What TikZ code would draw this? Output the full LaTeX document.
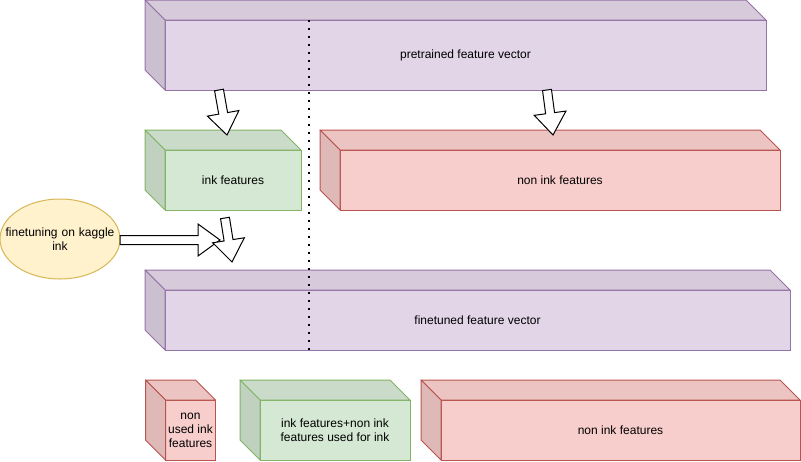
\documentclass[tikz,border=0pt]{standalone}
\usepackage{fontspec}
\setmainfont{Liberation Sans}
\usetikzlibrary{calc,shapes.geometric}
\usepackage{xcolor}
\definecolor{vecpurple}{HTML}{E1D5E7}
\definecolor{vecpurpleline}{HTML}{9673A6}
\definecolor{inkgreen}{HTML}{D5E8D4}
\definecolor{inkgreenline}{HTML}{82B366}
\definecolor{noinkred}{HTML}{F8CECC}
\definecolor{noinkredline}{HTML}{B85450}
\definecolor{tuneyellow}{HTML}{FFF2CC}
\definecolor{tuneyellowline}{HTML}{D6B656}
\tikzset{
  cube/.style={
    draw,
    line width=1pt,
    inner sep=0pt,
    outer sep=0pt,
    align=center,
    font=\fontsize{12pt}{14pt}\selectfont
  },
  vecbox/.style={cube, fill=vecpurple, draw=vecpurpleline},
  inkbox/.style={cube, fill=inkgreen, draw=inkgreenline},
  noinkbox/.style={cube, fill=noinkred, draw=noinkredline},
  tune/.style={
    ellipse,
    draw=tuneyellowline,
    fill=tuneyellow,
    line width=1pt,
    inner xsep=-14pt,
    inner ysep=0pt,
    outer sep=0pt,
    minimum width=120pt,
    minimum height=80pt,
    text width=112pt,
    align=center,
    font=\fontsize{12pt}{14pt}\selectfont
  },
  flex/.style={draw=black, fill=white, line width=1pt, line join=miter},
  divider/.style={line width=1.6pt, dash pattern=on 1.6pt off 6.4pt},
}
% top and left faces behind a front node (node, fill, line)
\newcommand{\cubefaces}[3]{%
  \filldraw[fill=#2!95!black, draw=#3, line width=1pt, line join=round]
    (#1.north west) -- ++(-20pt,20pt) -- ([shift={(-20pt,20pt)}]#1.north east) -- (#1.north east) -- cycle;
  \filldraw[fill=#2!90!black, draw=#3, line width=1pt, line join=round]
    (#1.north west) -- ++(-20pt,20pt) -- ([shift={(-20pt,20pt)}]#1.south west) -- (#1.south west) -- cycle;
}
% block arrow between two points (name, from, to)
\newcommand{\flexarrow}[3]{%
  \coordinate (#1h) at ($(#3)!22pt!(#2)$);
  \filldraw[flex] ($(#2)!4.5pt!90:(#3)$) -- ($(#1h)!4.5pt!90:(#3)$) -- ($(#1h)!16pt!90:(#3)$)
    -- (#3) -- ($(#1h)!16pt!-90:(#3)$) -- ($(#1h)!4.5pt!-90:(#3)$) -- ($(#2)!4.5pt!-90:(#3)$) -- cycle;
}

\begin{document}
\begin{tikzpicture}[x=1pt,y=-1pt]
\useasboundingbox (0,0) rectangle (801,461);

% Pretrained vector
\node[vecbox, minimum width=601pt, minimum height=70pt] (pre) at (465.5,55) {pretrained feature vector};
\cubefaces{pre}{vecpurple}{vecpurpleline}

% Split of pretrained features
\node[inkbox, minimum width=136pt, minimum height=60pt] (ink) at (233,180) {ink features};
\cubefaces{ink}{inkgreen}{inkgreenline}
\node[noinkbox, minimum width=440pt, minimum height=60pt] (nonink) at (560,180) {non ink features};
\cubefaces{nonink}{noinkred}{noinkredline}

% Finetuned vector
\node[vecbox, minimum width=625pt, minimum height=60pt] (fine) at (477.5,320) {finetuned feature vector};
\cubefaces{fine}{vecpurple}{vecpurpleline}

% Split of finetuned features
\node[noinkbox, minimum width=50pt, minimum height=60pt] (unused) at (190.5,430) {non\\used ink\\features};
\cubefaces{unused}{noinkred}{noinkredline}
\node[inkbox, minimum width=150pt, minimum height=60pt] (mixed) at (335,430) {ink features+non ink\\features used for ink};
\cubefaces{mixed}{inkgreen}{inkgreenline}
\node[noinkbox, minimum width=359pt, minimum height=60pt] (rest) at (620.5,430) {non ink features};
\cubefaces{rest}{noinkred}{noinkredline}

% Finetuning
\node[tune] (kaggle) at (60,239) {finetuning on kaggle\\ink};

% Divider
\draw[divider] ([xshift=144pt]pre.north west) -- ([xshift=144pt]fine.south west);

% Arrows
\coordinate (inktip) at (227,135);
\coordinate (noninktip) at (553,135);
\coordinate (tunetip) at (220,240);
\coordinate (downtail) at (225,218);
\coordinate (downtip) at (232,262);
\flexarrow{a1}{[xshift=54pt]pre.south west}{inktip}
\flexarrow{a2}{[xshift=382pt]pre.south west}{noninktip}
\flexarrow{a3}{[yshift=-1pt]kaggle.east}{tunetip}
\flexarrow{a4}{downtail}{downtip}

\end{tikzpicture}
\end{document}
